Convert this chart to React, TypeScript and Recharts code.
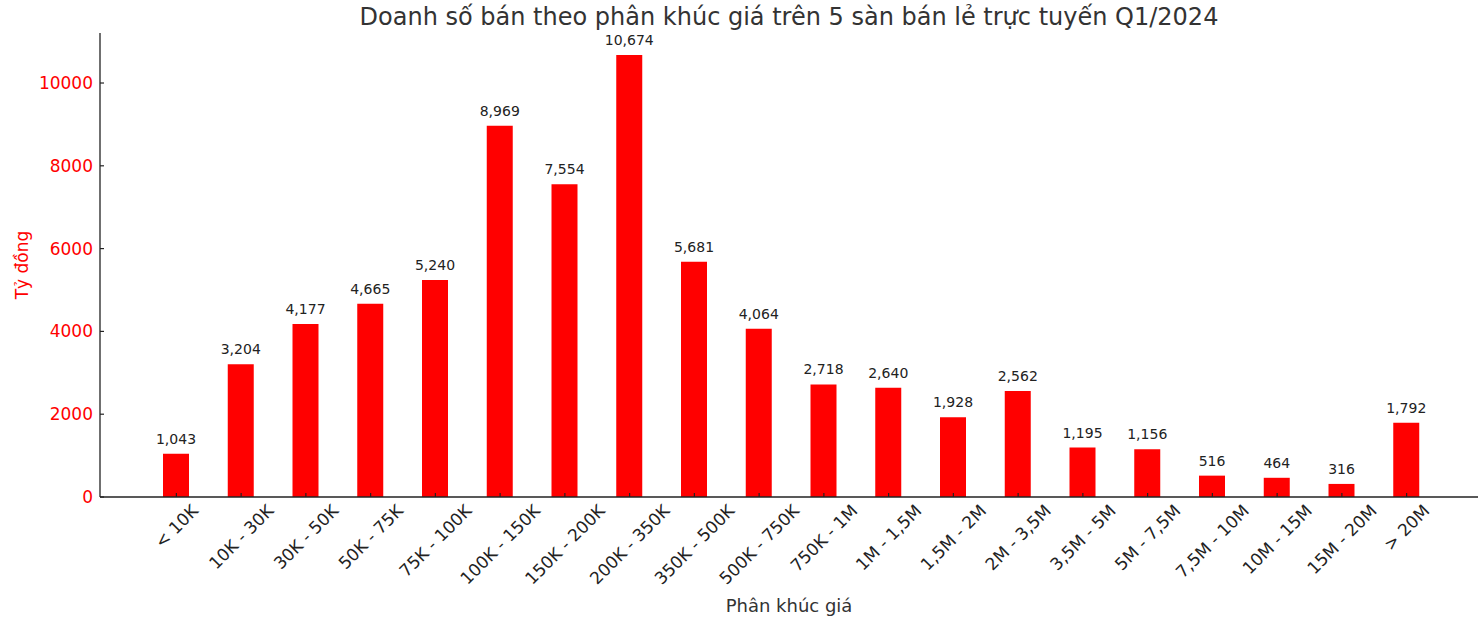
import { Bar, BarChart, LabelList, XAxis, YAxis } from "recharts";

const segments = [
  "< 10K",
  "10K - 30K",
  "30K - 50K",
  "50K - 75K",
  "75K - 100K",
  "100K - 150K",
  "150K - 200K",
  "200K - 350K",
  "350K - 500K",
  "500K - 750K",
  "750K - 1M",
  "1M - 1,5M",
  "1,5M - 2M",
  "2M - 3,5M",
  "3,5M - 5M",
  "5M - 7,5M",
  "7,5M - 10M",
  "10M - 15M",
  "15M - 20M",
  "> 20M",
];
const sales = [
  1043, 3204, 4177, 4665, 5240, 8969, 7554, 10674, 5681, 4064, 2718, 2640, 1928, 2562, 1195,
  1156, 516, 464, 316, 1792,
];
const yTicks = [0, 2000, 4000, 6000, 8000, 10000];

const data = segments.map((segment, i) => ({ segment, value: sales[i] }));

const FONT = "'DejaVu Sans', sans-serif";
const INK = "#222";

// rough DejaVu Sans advance widths (em) for centring the rotated labels
const glyphW: Record<string, number> = {
  " ": 0.318, "-": 0.361, ",": 0.318, "<": 0.838, ">": 0.838, K: 0.656, M: 0.863,
};
const textWidth = (s: string, size: number) =>
  [...s].reduce((w, c) => w + (glyphW[c] ?? 0.636), 0) * size;

function XTick({ x, y, payload }: any) {
  const label = String(payload.value);
  const size = 17;
  const half = ((textWidth(label, size) + size * 0.95) * Math.SQRT1_2) / 2;
  const cy = y + 5 + half;
  return (
    <g>
      <line x1={x} y1={y} x2={x} y2={y - 4} stroke={INK} strokeWidth={1.2} />
      <text
        x={x}
        y={cy}
        transform={`rotate(-45 ${x} ${cy})`}
        textAnchor="middle"
        dominantBaseline="central"
        fontSize={size}
        fontFamily={FONT}
        fill={INK}
      >
        {label}
      </text>
    </g>
  );
}

function YTick({ x, y, payload }: any) {
  return (
    <g>
      <line x1={x} y1={y} x2={x + 4} y2={y} stroke={INK} strokeWidth={1.2} />
      <text
        x={x - 7}
        y={y}
        textAnchor="end"
        dominantBaseline="central"
        fontSize={17}
        fontFamily={FONT}
        fill="#ff0000"
      >
        {payload.value}
      </text>
    </g>
  );
}

export default function App() {
  return (
    <div style={{ position: "absolute", left: 0, top: 0, width: 1481, height: 619, background: "#fff" }}>
      <div
        style={{
          position: "absolute",
          left: 100,
          width: 1378,
          top: 2,
          textAlign: "center",
          fontFamily: FONT,
          fontSize: 24,
          color: "#333",
          lineHeight: "30px",
        }}
      >
        Doanh số bán theo phân khúc giá trên 5 sàn bán lẻ trực tuyến Q1/2024
      </div>
      <BarChart
        width={1481}
        height={619}
        data={data}
        margin={{ top: 33, right: 3, bottom: 0, left: 0 }}
      >
        <XAxis
          dataKey="segment"
          interval={0}
          height={122}
          padding={{ left: 44, right: 39 }}
          tickLine={false}
          tickSize={0}
          tickMargin={0}
          tick={<XTick />}
          axisLine={{ stroke: INK, strokeWidth: 1.3 }}
          label={{
            value: "Phân khúc giá",
            position: "insideBottom",
            offset: 7,
            fontSize: 18,
            fontFamily: FONT,
            fill: "#333",
          }}
        />
        <YAxis
          width={100}
          domain={[0, 11208]}
          ticks={yTicks}
          tickLine={false}
          tickSize={0}
          tickMargin={0}
          tick={<YTick />}
          axisLine={{ stroke: INK, strokeWidth: 1.3 }}
          label={{
            content: ({ viewBox }: any) => {
              const cx = viewBox.x + 22;
              const cy = viewBox.y + viewBox.height / 2;
              return (
                <text
                  x={cx}
                  y={cy}
                  transform={`rotate(-90 ${cx} ${cy})`}
                  textAnchor="middle"
                  dominantBaseline="central"
                  fontSize={17}
                  fontFamily={FONT}
                  fill="#ff0000"
                >
                  Tỷ đồng
                </text>
              );
            },
          }}
        />
        <Bar dataKey="value" fill="#ff0000" barSize={26} isAnimationActive={false}>
          <LabelList
            dataKey="value"
            position="top"
            offset={10}
            formatter={(v: any) => Number(v).toLocaleString("en-US")}
            fontSize={14}
            fontFamily={FONT}
            fill={INK}
          />
        </Bar>
      </BarChart>
    </div>
  );
}
